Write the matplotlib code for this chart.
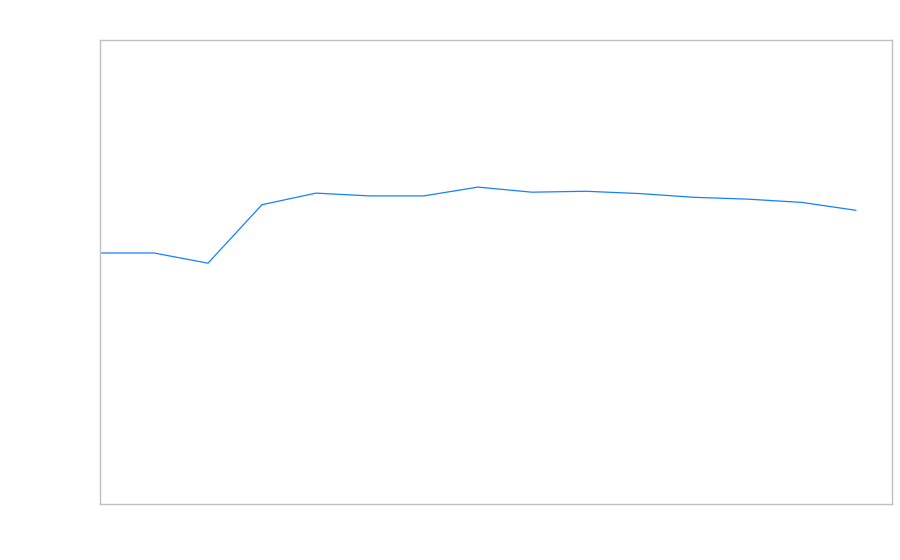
import matplotlib
matplotlib.use("Agg")
import matplotlib.pyplot as plt

x_index = list(range(15))
values = [54.1, 54.1, 51.9, 64.5, 67.0, 66.4, 66.4, 68.3, 67.2, 67.4, 66.9, 66.1, 65.7, 65.0, 63.3]

fig = plt.figure(figsize=(9, 5.6), dpi=100)
ax = fig.add_axes([100/900, 56/560, 792/900, 464/560])
ax.plot(x_index, values, color="#1580ff", linewidth=0.9)
ax.set_xlim(0, 14.67)
ax.set_ylim(0, 100)
ax.set_xticks([])
ax.set_yticks([])
for s in ax.spines.values():
    s.set_color("#c0c0c0")
    s.set_linewidth(1.0)
fig.savefig("out.png", dpi=100, facecolor="white")
